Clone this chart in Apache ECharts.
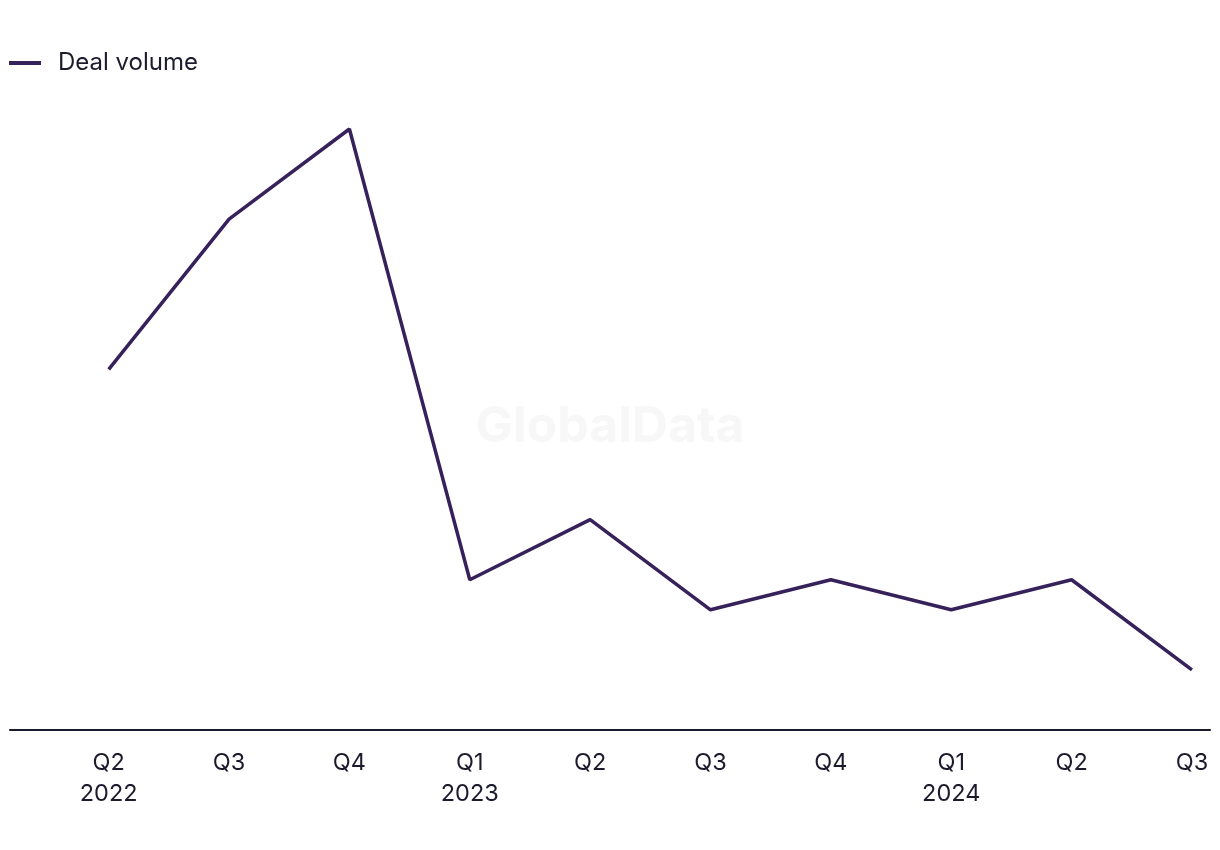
<!DOCTYPE html>
<html><head><meta charset="utf-8">
<script src="https://cdn.jsdelivr.net/npm/echarts@6/dist/echarts.min.js"></script>
<style>html,body{margin:0;padding:0;background:#fff}#c{width:1220px;height:850px}</style>
</head><body><div id="c"></div>
<script>
const quarters = ['Q2\n2022','Q3','Q4','Q1\n2023','Q2','Q3','Q4','Q1\n2024','Q2','Q3'];
const dealVolume = [12, 17, 20, 5, 7, 4, 5, 4, 5, 2];
const seriesName = 'Deal volume';

const chart = echarts.init(document.getElementById('c'));
const fontFam = 'Inter, "Noto Sans", sans-serif';
chart.setOption({
  animation: false,
  graphic: [{
    type: 'text', left: 'center', top: 402, z: 0,
    style: { text: 'GlobalData', fill: '#f7f7f7', font: 'bold 50px ' + fontFam }
  }],
  legend: {
    left: 4, top: 46, itemWidth: 32, itemHeight: 4, itemGap: 20,
    icon: 'rect',
    textStyle: { fontSize: 24, color: '#1c1b2e', fontFamily: fontFam, padding: [0, 0, 0, 12] },
    data: [seriesName]
  },
  grid: { left: 10, right: 10, top: 129, bottom: 120 },
  xAxis: {
    type: 'value', min: -0.82, max: 9.15,
    axisLine: { show: true, lineStyle: { color: '#1a1a2e', width: 2 } },
    axisTick: { show: false },
    splitLine: { show: false },
    axisLabel: {
      customValues: quarters.map((q, i) => i),
      color: '#1c1b2e', fontSize: 23.5, fontFamily: fontFam, lineHeight: 31, margin: 17,
      formatter: v => quarters[Math.round(v)] || ''
    }
  },
  yAxis: { type: 'value', min: 0, max: 20, show: false, splitLine: { show: false } },
  series: [{
    name: seriesName, type: 'line', showSymbol: false, symbol: 'none',
    lineStyle: { color: '#37215a', width: 3.5 },
    itemStyle: { color: '#37215a' },
    data: dealVolume.map((v, i) => [i, v]), z: 3
  }]
});
</script></body></html>
